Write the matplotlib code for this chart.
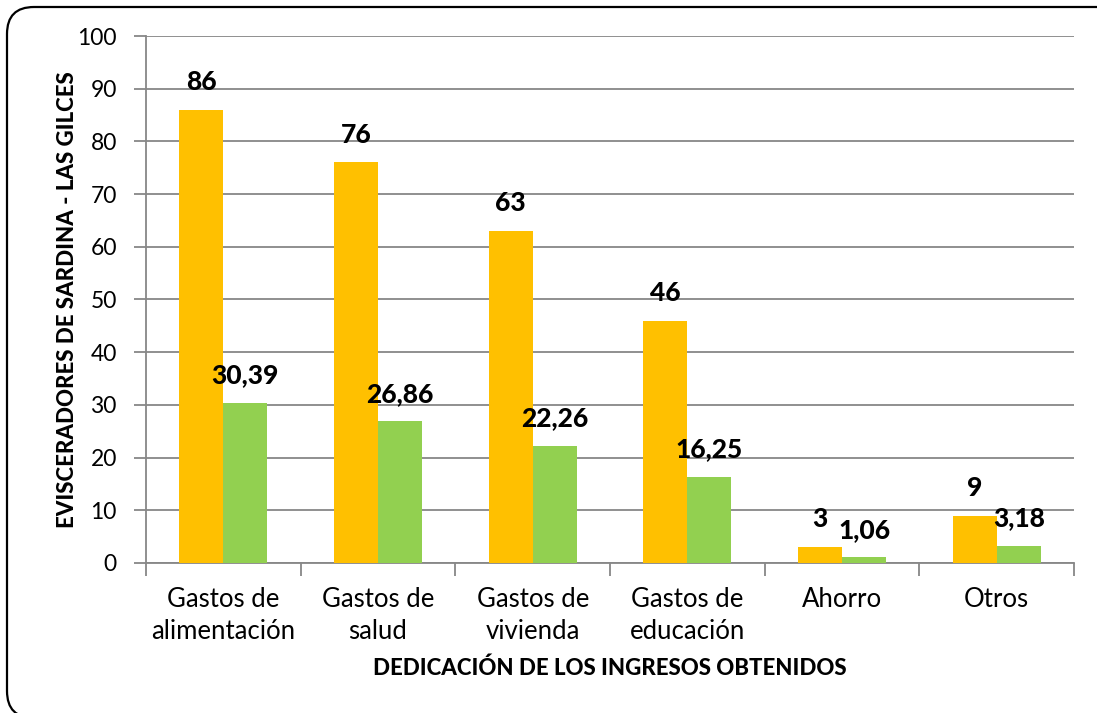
import numpy as np
import matplotlib.pyplot as plt
from matplotlib.patches import FancyBboxPatch

plt.rcParams['font.family'] = ['Lato', 'DejaVu Sans']

categorias = ['Gastos de\nalimentación', 'Gastos de\nsalud', 'Gastos de\nvivienda',
              'Gastos de\neducación', 'Ahorro', 'Otros']
frecuencia = [86, 76, 63, 46, 3, 9]
porcentaje = [30.39, 26.86, 22.26, 16.25, 1.06, 3.18]

naranja = '#FFC000'
verde = '#92D050'
gris = '#878787'

fig = plt.figure(figsize=(10.97, 7.13), dpi=100)
ax = fig.add_axes([0.1331, 0.2104, 0.8460, 0.7391])

x = np.arange(len(categorias))
w = 0.285
b1 = ax.bar(x - w / 2, frecuencia, w, color=naranja, zorder=3)
b2 = ax.bar(x + w / 2, porcentaje, w, color=verde, zorder=3)


def etiqueta(v):
    if float(v).is_integer():
        return str(int(v))
    return f'{v:.2f}'.replace('.', ',')


for bars, vals in ((b1, frecuencia), (b2, porcentaje)):
    for r, v in zip(bars, vals):
        ax.annotate(etiqueta(v), (r.get_x() + r.get_width() / 2, v),
                    xytext=(0, 20), textcoords='offset points',
                    ha='center', va='center', fontsize=19, fontweight='black',
                    zorder=5)

ax.set_xlim(-0.5, len(categorias) - 0.5)
ax.set_ylim(0, 100)
ax.set_yticks(np.arange(0, 101, 10))
ax.yaxis.grid(True, color=gris, lw=1.3, zorder=0)

ax.set_xticks(x)
ax.set_xticklabels(categorias, fontsize=18.5, linespacing=1.35)
ax.set_xticks(np.arange(-0.5, len(categorias), 1), minor=True)
ax.tick_params(axis='x', which='major', length=0, pad=17)
ax.tick_params(axis='x', which='minor', length=9, width=1.3, color=gris, direction='out')
ax.tick_params(axis='y', length=9, width=1.3, color=gris, direction='out',
               labelsize=16.5, pad=12)

for s in ('top', 'right'):
    ax.spines[s].set_visible(False)
for s in ('left', 'bottom'):
    ax.spines[s].set_color(gris)
    ax.spines[s].set_linewidth(1.3)

ax.set_xlabel('DEDICACIÓN DE LOS INGRESOS OBTENIDOS', fontsize=16,
              fontweight='black')
ax.set_ylabel('EVISCERADORES DE SARDINA - LAS GILCES', fontsize=16,
              fontweight='black')
ax.xaxis.set_label_coords(0.5, -0.179)
ax.yaxis.set_label_coords(-0.073, 0.5)

marco = FancyBboxPatch((0.07, -0.05), 11.3, 7.11,
                       boxstyle='round,pad=0,rounding_size=0.27',
                       transform=fig.dpi_scale_trans, fill=False,
                       ec='black', lw=1.6, clip_on=False)
fig.add_artist(marco)

fig.savefig('out.png', dpi=100)
